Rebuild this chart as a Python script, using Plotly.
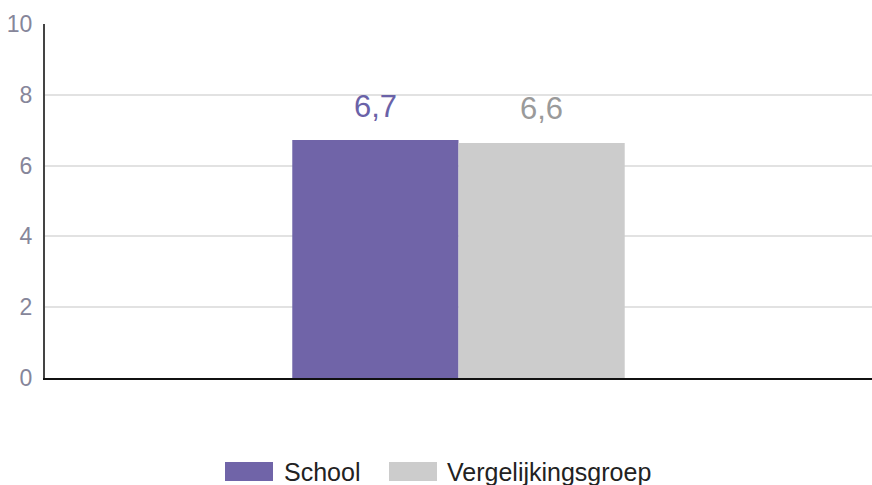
import plotly.graph_objects as go

# ---- data ----
categories = ["Totaal"]
series_names = ["School", "Vergelijkingsgroep"]
school_values = [6.72]
vergelijking_values = [6.64]
y_tick_values = [0, 2, 4, 6, 8, 10]

colors = {"School": "#7064a8", "Vergelijkingsgroep": "#cccccc"}
label_colors = {"School": "#6a62a8", "Vergelijkingsgroep": "#9a9a9a"}

W, H = 872, 485
L, R, T, B = 45, 0, 24, 107
FONT = "Arial, Liberation Sans, sans-serif"
BARGAP = 0.598

fig = go.Figure()
all_values = [school_values, vergelijking_values]
for name, vals in zip(series_names, all_values):
    fig.add_trace(go.Bar(
        x=categories, y=vals, name=name,
        marker=dict(color=colors[name], line=dict(width=0)),
        showlegend=False, hoverinfo="y",
    ))

# value labels above the bars (derived from the grouped-bar geometry)
plot_w = W - L - R
bar_w = plot_w / len(categories) * (1 - BARGAP) / len(series_names)
annotations = []
for i, (name, vals) in enumerate(zip(series_names, all_values)):
    offset = (i - (len(series_names) - 1) / 2) * bar_w
    for j, v in enumerate(vals):
        annotations.append(dict(
            xref="x", yref="y", x=j, y=v, xshift=offset, yshift=34,
            text=f"{v:.1f}".replace(".", ","), showarrow=False,
            xanchor="center", yanchor="middle",
            font=dict(family=FONT, size=31, color=label_colors[name])))

# custom legend (swatches + labels), positioned in pixels
def px_x(p):
    return (p - L) / (W - L - R)

def px_y(p):
    return (H - B - p) / (H - T - B)

legend_items = [("School", 225, 273, 282), ("Vergelijkingsgroep", 389, 437, 445)]
shapes = []
for name, x0, x1, tx in legend_items:
    shapes.append(dict(type="rect", xref="paper", yref="paper",
                       x0=px_x(x0), x1=px_x(x1), y0=px_y(481), y1=px_y(462),
                       fillcolor=colors[name], line=dict(width=0)))
    annotations.append(dict(xref="paper", yref="paper", x=px_x(tx), y=px_y(472),
                            text=name, showarrow=False, xanchor="left", yanchor="middle",
                            font=dict(family=FONT, size=25, color="#222222")))

fig.update_layout(
    width=W, height=H,
    margin=dict(l=L, r=R, t=T, b=B),
    paper_bgcolor="white", plot_bgcolor="white",
    barmode="group", bargap=BARGAP, bargroupgap=0,
    separators=", ",
    shapes=shapes, annotations=annotations,
    font=dict(family=FONT),
)
fig.update_xaxes(showgrid=False, showline=True, linecolor="#111111", linewidth=2,
                 showticklabels=False, ticks="", zeroline=False)
fig.update_yaxes(range=[0, 10], tickvals=y_tick_values, showgrid=True,
                 gridcolor="#e2e2e2", gridwidth=1.5, showline=True, linecolor="#444444",
                 linewidth=2, ticks="", zeroline=False, ticklabelstandoff=6,
                 tickfont=dict(family=FONT, size=23, color="#86869a"))

fig.write_html("out.html", config={"displayModeBar": False},
               post_script="document.body.style.margin='0px';")
